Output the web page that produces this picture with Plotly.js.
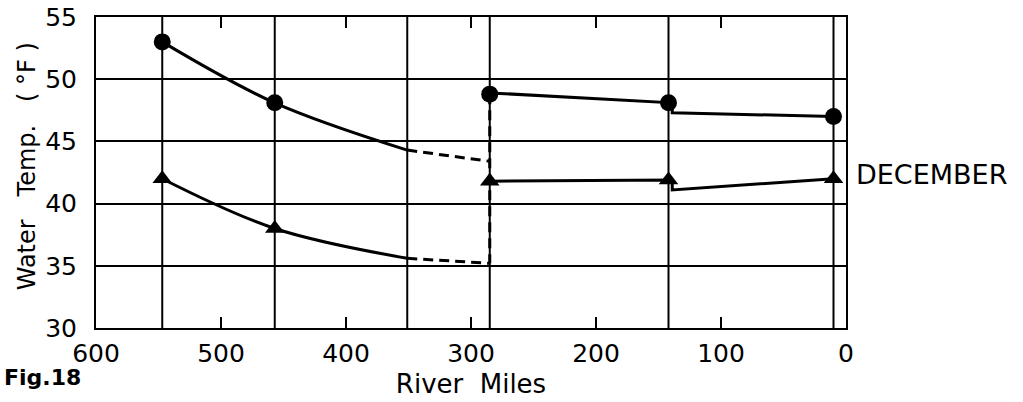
<!DOCTYPE html>
<html>
<head>
<meta charset="utf-8">
<script src="https://cdn.plot.ly/plotly-3.0.1.min.js"></script>
<style>html,body{margin:0;padding:0;background:#fff}#chart{width:1023px;height:402px}</style>
</head>
<body>
<div id="chart"></div>
<script>
// Station river miles (vertical grid lines)
const stations = [547, 457, 351, 285, 142, 10];
const xTicks = [600, 500, 400, 300, 200, 100, 0];
const yTicks = [30, 35, 40, 45, 50, 55];

// Upper curve (circles)
const circUpX = [547, 457, 351];
const circUpY = [53.0, 48.1, 44.3];
const circDashX = [351, 285];
const circDashY = [44.3, 43.4];
const jumpX = [285, 285];
const jumpY = [48.8, 35.2];
const circDownX = [285, 142, 139, 139, 10];
const circDownY = [48.9, 48.1, 48.1, 47.3, 47.0];
const circPtX = [547, 457, 285, 142, 10];
const circPtY = [53.0, 48.1, 48.8, 48.1, 47.0];

// Lower curve (triangles)
const triUpX = [547, 457, 351];
const triUpY = [42.0, 38.0, 35.6];
const triDashX = [351, 285];
const triDashY = [35.6, 35.2];
const triDownX = [285, 142, 139, 139, 10];
const triDownY = [41.8, 41.9, 41.9, 41.1, 42.0];
const triPtX = [547, 457, 285, 142, 10];
const triPtY = [42.0, 38.0, 41.8, 41.9, 42.0];

const FONT = 'DejaVu Sans, sans-serif';
const solid = {color: '#000', width: 3};
const dashed = {color: '#000', width: 3, dash: '10px,6px'};

const traces = [
  {x: circUpX, y: circUpY, mode: 'lines', line: Object.assign({shape: 'spline', smoothing: 1}, solid)},
  {x: circDashX, y: circDashY, mode: 'lines', line: dashed},
  {x: jumpX, y: jumpY, mode: 'lines', line: dashed},
  {x: circDownX, y: circDownY, mode: 'lines', line: solid},
  {x: triUpX, y: triUpY, mode: 'lines', line: Object.assign({shape: 'spline', smoothing: 1}, solid)},
  {x: triDashX, y: triDashY, mode: 'lines', line: dashed},
  {x: triDownX, y: triDownY, mode: 'lines', line: solid},
  {x: circPtX, y: circPtY, mode: 'markers', marker: {symbol: 'circle', size: 17, color: '#000'}},
  {x: triPtX, y: triPtY, mode: 'markers', marker: {symbol: 'triangle-up', size: 17, color: '#000'}}
];

const shapes = stations.map(s => ({
  type: 'line', xref: 'x', yref: 'paper', x0: s, x1: s, y0: 0, y1: 1,
  line: {color: '#000', width: 2}, layer: 'below'
}));

const layout = {
  width: 1023, height: 402,
  margin: {l: 96, r: 177, t: 17, b: 74},
  paper_bgcolor: '#fff', plot_bgcolor: '#fff',
  showlegend: false,
  font: {family: FONT, color: '#000', size: 25},
  xaxis: {
    range: [600, 0], tickvals: xTicks, ticktext: xTicks.map(String),
    ticks: 'inside', ticklen: 11, tickwidth: 2, tickcolor: '#000',
    showgrid: false, zeroline: false,
    showline: true, linecolor: '#000', linewidth: 2, mirror: 'ticks',
    tickfont: {family: FONT, size: 25, color: '#000'},
    ticklabelstandoff: 2,
    title: {text: 'River\u00a0\u00a0Miles', font: {family: FONT, size: 26, color: '#000'}, standoff: 8}
  },
  yaxis: {
    range: [30, 55], tickvals: yTicks, ticktext: yTicks.map(String),
    ticks: '', showgrid: true, gridcolor: '#000', gridwidth: 2,
    zeroline: false, showline: true, linecolor: '#000', linewidth: 2, mirror: true,
    tickfont: {family: FONT, size: 25, color: '#000'},
    ticklabelstandoff: 12
  },
  shapes: shapes,
  annotations: [
    {xref: 'paper', yref: 'paper', x: -0.092, y: 0.52, xanchor: 'center', yanchor: 'middle',
     textangle: -90, showarrow: false,
     text: 'Water\u00a0\u00a0\u00a0Temp.\u00a0\u00a0\u00a0(\u00a0°F\u00a0)',
     font: {family: FONT, size: 24, color: '#000'}},
    {xref: 'paper', yref: 'paper', x: 1.010, y: 0.494, xanchor: 'left', yanchor: 'middle',
     showarrow: false, text: 'DECEMBER', font: {family: FONT, size: 27, color: '#000'}},
    {xref: 'paper', yref: 'paper', x: -0.126, y: -0.158, xanchor: 'left', yanchor: 'middle',
     showarrow: false, text: '<b>Fig.18</b>', font: {family: FONT, size: 22, color: '#000'}}
  ]
};

Plotly.newPlot('chart', traces, layout, {staticPlot: true, displayModeBar: false});
</script>
</body>
</html>
